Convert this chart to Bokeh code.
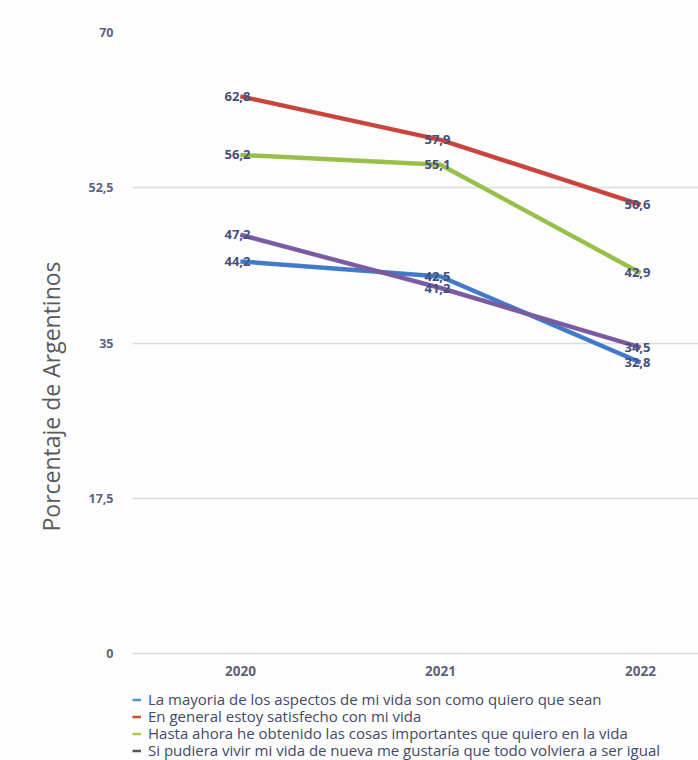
import math
from bokeh.plotting import figure
from bokeh.models import (FixedTicker, Range1d, Legend, LegendItem, ColumnDataSource)
from bokeh.core.properties import value
from bokeh.embed import file_html
from bokeh.resources import INLINE

years = [2020, 2021, 2022]
series_names = [
    "La mayoria de los aspectos de mi vida son como quiero que sean",
    "En general estoy satisfecho con mi vida",
    "Hasta ahora he obtenido las cosas importantes que quiero en la vida",
    "Si pudiera vivir mi vida de nueva me gustaría que todo volviera a ser igual",
]
mayoria = [44.2, 42.5, 32.8]
satisfecho = [62.8, 57.9, 50.6]
obtenido = [56.2, 55.1, 42.9]
igual = [47.2, 41.2, 34.5]
y_ticks = [0, 17.5, 35, 52.5, 70]
y_tick_labels = ["0", "17,5", "35", "52,5", "70"]
y_title = "Porcentaje de Argentinos"

colors = ["#3d78c6", "#c8423b", "#95bf47", "#7b5ba4"]
legend_colors = ["#4a98cf", "#d24a2e", "#b4c84a", "#55506a"]
all_series = [mayoria, satisfecho, obtenido, igual]

FONT = "Open Sans"

p = figure(width=698, height=760, output_backend="svg", toolbar_location=None,
           x_range=Range1d(2019.46, 2022.29), y_range=Range1d(-12.06, 70),
           min_border_left=132, min_border_right=0, min_border_top=32,
           min_border_bottom=0)
p.background_fill_color = "#fdfdfd"
p.border_fill_color = "#fdfdfd"
p.outline_line_color = None

p.xgrid.grid_line_color = None
p.ygrid.grid_line_color = "#dcdcdc"
p.ygrid.grid_line_width = 1.5

p.yaxis.ticker = FixedTicker(ticks=y_ticks)
p.yaxis.major_label_overrides = {t: l for t, l in zip(y_ticks, y_tick_labels)}
p.yaxis.axis_line_color = None
p.yaxis.major_tick_line_color = None
p.yaxis.minor_tick_line_color = None
p.yaxis.major_label_standoff = 13
p.yaxis.major_label_text_font = FONT
p.yaxis.major_label_text_font_style = "bold"
p.yaxis.major_label_text_font_size = "12.5px"
p.yaxis.major_label_text_color = "#5d6280"
p.yaxis.axis_label = y_title
p.yaxis.axis_label_text_font = FONT
p.yaxis.axis_label_text_font_style = "normal"
p.yaxis.axis_label_text_font_size = "23px"
p.yaxis.axis_label_text_color = "#5a5a5a"
p.yaxis.axis_label_standoff = 18

p.xaxis.fixed_location = 0
p.xaxis.ticker = FixedTicker(ticks=years)
p.xaxis.major_label_overrides = {y: str(y) for y in years}
p.xaxis.axis_line_color = None
p.xaxis.major_tick_line_color = None
p.xaxis.minor_tick_line_color = None
p.xaxis.major_label_standoff = 6
p.xaxis.major_label_text_font = FONT
p.xaxis.major_label_text_font_style = "bold"
p.xaxis.major_label_text_font_size = "13.5px"
p.xaxis.major_label_text_color = "#5d6280"

legend_rows_y = [51, 34, 17, 0]  # bottom offset of each legend row inside the frame (px)

for name, vals, c, lc, ly in zip(series_names, all_series, colors, legend_colors, legend_rows_y):
    src = ColumnDataSource(dict(x=years, y=vals, t=[f"{v:.1f}".replace(".", ",") for v in vals]))
    key = p.line("x", "y", source=src, line_color=lc, line_width=2.5)
    p.line("x", "y", source=src, line_color=c, line_width=4.5, line_alpha=0.95)
    p.text("x", "y", text="t", source=src, text_align="center", text_baseline="middle",
           text_font=value(FONT), text_font_style="bold", text_font_size="13px",
           text_color="#43507a", x_offset=-3)
    lg = Legend(items=[LegendItem(label=name, renderers=[key])],
                orientation="vertical", location=(0, ly),
                glyph_width=9, glyph_height=17, label_height=17, spacing=0,
                label_standoff=7, padding=0, margin=0,
                label_text_font=FONT, label_text_font_size="15px",
                label_text_color="#434a66",
                background_fill_alpha=0, border_line_color=None)
    p.add_layout(lg)

open("out.html", "w").write(file_html(p, INLINE))
